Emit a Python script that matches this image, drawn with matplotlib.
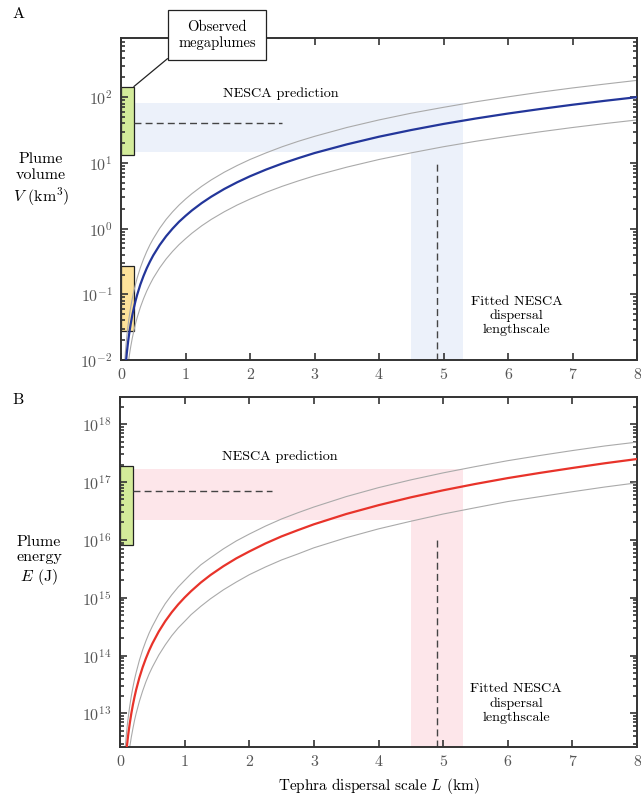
import matplotlib
matplotlib.use('Agg')
import matplotlib.pyplot as plt
from matplotlib.patches import Rectangle

plt.rcParams['font.family'] = 'serif'
plt.rcParams['font.serif'] = ['cmr10', 'DejaVu Serif']
plt.rcParams['mathtext.fontset'] = 'cm'
plt.rcParams['axes.unicode_minus'] = False
plt.rcParams['axes.formatter.use_mathtext'] = True

# dispersal scale L (km)
L = [0.05, 0.06, 0.07, 0.08, 0.09, 0.1, 0.11, 0.12, 0.135, 0.15, 0.175, 0.2, 0.225,
     0.25, 0.3, 0.35, 0.4, 0.45, 0.5, 0.6, 0.7, 0.8, 0.9, 1.0, 1.1, 1.25, 1.4, 1.6,
     1.8, 2.0, 2.25, 2.5, 2.75, 3, 3.5, 4, 4.5, 5, 5.5, 6, 6.5, 7, 7.5, 8]

# panel A: plume volume (km^3)
V_mid = [0.0039, 0.0056, 0.0077, 0.0100, 0.0127, 0.0156, 0.0189, 0.0225, 0.0285,
         0.0352, 0.0479, 0.0625, 0.0791, 0.0977, 0.141, 0.191, 0.25, 0.316, 0.391,
         0.5625, 0.766, 1.0, 1.27, 1.56, 1.89, 2.44, 3.06, 4.0, 5.06, 6.25, 7.91, 9.77,
         11.8, 14.1, 19.1, 25.0, 31.6, 39.1, 47.3, 56.3, 66.0, 76.6, 87.9, 100]
V_hi = [0.0070, 0.0101, 0.0139, 0.018, 0.0228, 0.0281, 0.034, 0.0405, 0.0513, 0.0633,
        0.0862, 0.1125, 0.142, 0.176, 0.254, 0.344, 0.45, 0.57, 0.70, 1.01, 1.38, 1.8,
        2.28, 2.81, 3.40, 4.39, 5.51, 7.2, 9.1, 11.25, 14.2, 17.6, 21.3, 25.3, 34.5, 45,
        57, 70, 85, 101, 119, 138, 158, 180]
V_lo = [0.0018, 0.0025, 0.0034, 0.0045, 0.0057, 0.0070, 0.0085, 0.0101, 0.0128, 0.0158,
        0.0215, 0.0281, 0.0356, 0.044, 0.0634, 0.086, 0.1125, 0.142, 0.176, 0.253, 0.345,
        0.45, 0.57, 0.70, 0.85, 1.10, 1.38, 1.80, 2.28, 2.81, 3.56, 4.40, 5.32, 6.35,
        8.6, 11.25, 14.2, 17.6, 21.3, 25.3, 29.7, 34.5, 39.6, 45]

# panel B: plume energy (J)
E_mid = [3.6e11, 5.8e11, 8.8e11, 1.25e12, 1.71e12, 2.26e12, 2.91e12, 3.67e12, 5.0e12,
         6.6e12, 9.97e12, 1.42e13, 1.94e13, 2.57e13, 4.16e13, 6.26e13, 8.9e13, 1.22e14,
         1.61e14, 2.61e14, 3.93e14, 5.6e14, 7.65e14, 1.01e15, 1.30e15, 1.83e15, 2.47e15,
         3.51e15, 4.80e15, 6.3e15, 8.67e15, 1.15e16, 1.47e16, 1.86e16, 2.80e16, 3.98e16,
         5.44e16, 7.2e16, 9.27e16, 1.17e17, 1.44e17, 1.75e17, 2.11e17, 2.5e17]
E_hi = [7.2e11, 1.17e12, 1.76e12, 2.5e12, 3.42e12, 4.5e12, 5.8e12, 7.3e12, 1.0e13,
        1.32e13, 2.0e13, 2.84e13, 3.9e13, 5.1e13, 8.3e13, 1.25e14, 1.78e14, 2.44e14,
        3.2e14, 5.2e14, 7.9e14, 1.12e15, 1.53e15, 2.0e15, 2.6e15, 3.7e15, 4.9e15, 7.0e15,
        9.6e15, 1.26e16, 1.73e16, 2.3e16, 2.94e16, 3.7e16, 5.6e16, 8.0e16, 1.09e17,
        1.44e17, 1.85e17, 2.34e17, 2.88e17, 3.5e17, 4.2e17, 4.9e17]
E_lo = [1.4e11, 2.3e11, 3.4e11, 4.9e11, 6.7e11, 8.8e11, 1.13e12, 1.43e12, 1.95e12,
        2.6e12, 3.9e12, 5.5e12, 7.6e12, 1.0e13, 1.62e13, 2.44e13, 3.5e13, 4.8e13, 6.3e13,
        1.02e14, 1.53e14, 2.2e14, 3.0e14, 3.9e14, 5.1e14, 7.1e14, 9.6e14, 1.37e15,
        1.87e15, 2.5e15, 3.4e15, 4.5e15, 5.7e15, 7.3e15, 1.09e16, 1.55e16, 2.1e16,
        2.8e16, 3.6e16, 4.6e16, 5.6e16, 6.8e16, 8.2e16, 9.7e16]

# fitted lengthscale and its range, predictions and observed ranges
L_fit = 4.9
L_range = [4.5, 5.3]
V_pred = 40
V_pred_range = [14.6, 81]
V_mega = [13, 145]
V_other = [0.0275, 0.267]
E_pred = 7.1e16
E_pred_range = [2.2e16, 1.7e17]
E_mega = [8.3e15, 1.87e17]

x_ticks = [0, 1, 2, 3, 4, 5, 6, 7, 8]
V_ticks = [1e-2, 1e-1, 1e0, 1e1, 1e2]
V_labels = [r'$10^{-2}$', r'$10^{-1}$', r'$10^{0}$', r'$10^{1}$', r'$10^{2}$']
E_ticks = [1e13, 1e14, 1e15, 1e16, 1e17, 1e18]
E_labels = [r'$10^{13}$', r'$10^{14}$', r'$10^{15}$', r'$10^{16}$', r'$10^{17}$', r'$10^{18}$']

W, H = 641, 800
fig = plt.figure(figsize=(W / 100, H / 100), dpi=100)
axA = fig.add_axes([121 / W, 1 - 360 / H, (637 - 121) / W, (360 - 38) / H])
axB = fig.add_axes([120 / W, 1 - 747 / H, (637 - 120) / W, (747 - 397) / H])

spine_c = '#333333'
tick_c = '#555555'
note_fs = 10.2


def style(ax, yticks, ylabels):
    ax.set_yscale('log')
    ax.set_xlim(0, 8)
    ax.set_xticks(x_ticks)
    ax.set_xticklabels([str(t) for t in x_ticks])
    ax.set_yticks(yticks)
    ax.set_yticklabels(ylabels)
    for s in ax.spines.values():
        s.set_color(spine_c)
        s.set_linewidth(1.4)
    ax.tick_params(which='both', direction='in', top=True, right=True,
                   color=spine_c, labelcolor=tick_c, labelsize=11.5, width=1.2)
    ax.tick_params(which='major', length=5, pad=6)
    ax.tick_params(which='minor', length=3)
    ax.tick_params(axis='x', which='minor', top=False, bottom=False)


# ---- panel A ----
style(axA, V_ticks, V_labels)
axA.set_ylim(1e-2, 10 ** 2.9)
band_b = '#ecf1fa'
axA.add_patch(Rectangle((0.2, V_pred_range[0]), L_range[1] - 0.2,
                        V_pred_range[1] - V_pred_range[0], color=band_b, lw=0, zorder=0.5))
axA.add_patch(Rectangle((L_range[0], 1e-3), L_range[1] - L_range[0],
                        V_pred_range[0] - 1e-3, color=band_b, lw=0, zorder=0.5))
axA.plot(L, V_hi, color='#aaaaaa', lw=0.8, zorder=2)
axA.plot(L, V_lo, color='#aaaaaa', lw=0.8, zorder=2)
axA.plot(L, V_mid, color='#23369a', lw=1.6, zorder=3)
axA.plot([0.2, 2.5], [V_pred, V_pred], ls=(0, (5, 3)), color='#444444', lw=1.0)
axA.plot([L_fit, L_fit], [1e-2, 10], ls=(0, (5, 3)), color='#444444', lw=1.0)
axA.add_patch(Rectangle((0, V_mega[0]), 0.2, V_mega[1] - V_mega[0],
                        facecolor='#d3eb9a', edgecolor='#222222', lw=0.9, zorder=1.2))
axA.add_patch(Rectangle((0, V_other[0]), 0.2, V_other[1] - V_other[0],
                        facecolor='#fde29a', edgecolor='#222222', lw=0.9, zorder=1.2))
axA.text(2.47, 114, 'NESCA prediction', ha='center', va='center', fontsize=note_fs)
axA.text(6.13, 0.047, 'Fitted NESCA\ndispersal\nlengthscale', ha='center', va='center',
         fontsize=note_fs, linespacing=1.2)
axA.annotate('Observed\nmegaplumes', xy=(0.2, V_mega[1]), xycoords='data',
             xytext=(217 / W, 1 - 35 / H), textcoords='figure fraction',
             ha='center', va='center', fontsize=10.5, linespacing=1.2,
             bbox=dict(boxstyle='square,pad=0.7', fc='white', ec='#222222', lw=0.9),
             arrowprops=dict(arrowstyle='-', color='#222222', lw=0.9, relpos=(0, 0),
                             shrinkA=0, shrinkB=0),
             annotation_clip=False)
fig.text(41 / W, 1 - 180 / H, 'Plume\nvolume\n$V$ (km$^3$)', ha='center', va='center',
         fontsize=11.5, linespacing=1.2)
fig.text(12 / W, 1 - 14 / H, 'A', ha='left', va='center', fontsize=11.5)

# ---- panel B ----
style(axB, E_ticks, E_labels)
axB.set_ylim(10 ** 12.42, 10 ** 18.47)
band_r = '#fde6ea'
axB.add_patch(Rectangle((0.2, E_pred_range[0]), L_range[1] - 0.2,
                        E_pred_range[1] - E_pred_range[0], color=band_r, lw=0, zorder=0.5))
axB.add_patch(Rectangle((L_range[0], 1e11), L_range[1] - L_range[0],
                        E_pred_range[0] - 1e11, color=band_r, lw=0, zorder=0.5))
axB.plot(L, E_hi, color='#aaaaaa', lw=0.8, zorder=2)
axB.plot(L, E_lo, color='#aaaaaa', lw=0.8, zorder=2)
axB.plot(L, E_mid, color='#e8332a', lw=1.6, zorder=3)
axB.plot([0.2, 2.35], [E_pred, E_pred], ls=(0, (5, 3)), color='#444444', lw=1.0)
axB.plot([L_fit, L_fit], [10 ** 12.42, 1e16], ls=(0, (5, 3)), color='#444444', lw=1.0)
axB.add_patch(Rectangle((0, E_mega[0]), 0.2, E_mega[1] - E_mega[0],
                        facecolor='#d3eb9a', edgecolor='#222222', lw=0.9, zorder=1.2))
axB.text(2.47, 2.7e17, 'NESCA prediction', ha='center', va='center', fontsize=note_fs)
axB.text(6.13, 1.5e13, 'Fitted NESCA\ndispersal\nlengthscale', ha='center', va='center',
         fontsize=note_fs, linespacing=1.2)
axB.set_xlabel('Tephra dispersal scale $L$ (km)', fontsize=11, labelpad=5)
fig.text(39 / W, 1 - 561 / H, 'Plume\nenergy\n$E$ (J)', ha='center', va='center',
         fontsize=11.5, linespacing=1.2)
fig.text(12 / W, 1 - 400 / H, 'B', ha='left', va='center', fontsize=11.5)

fig.savefig('out.png', dpi=100)
